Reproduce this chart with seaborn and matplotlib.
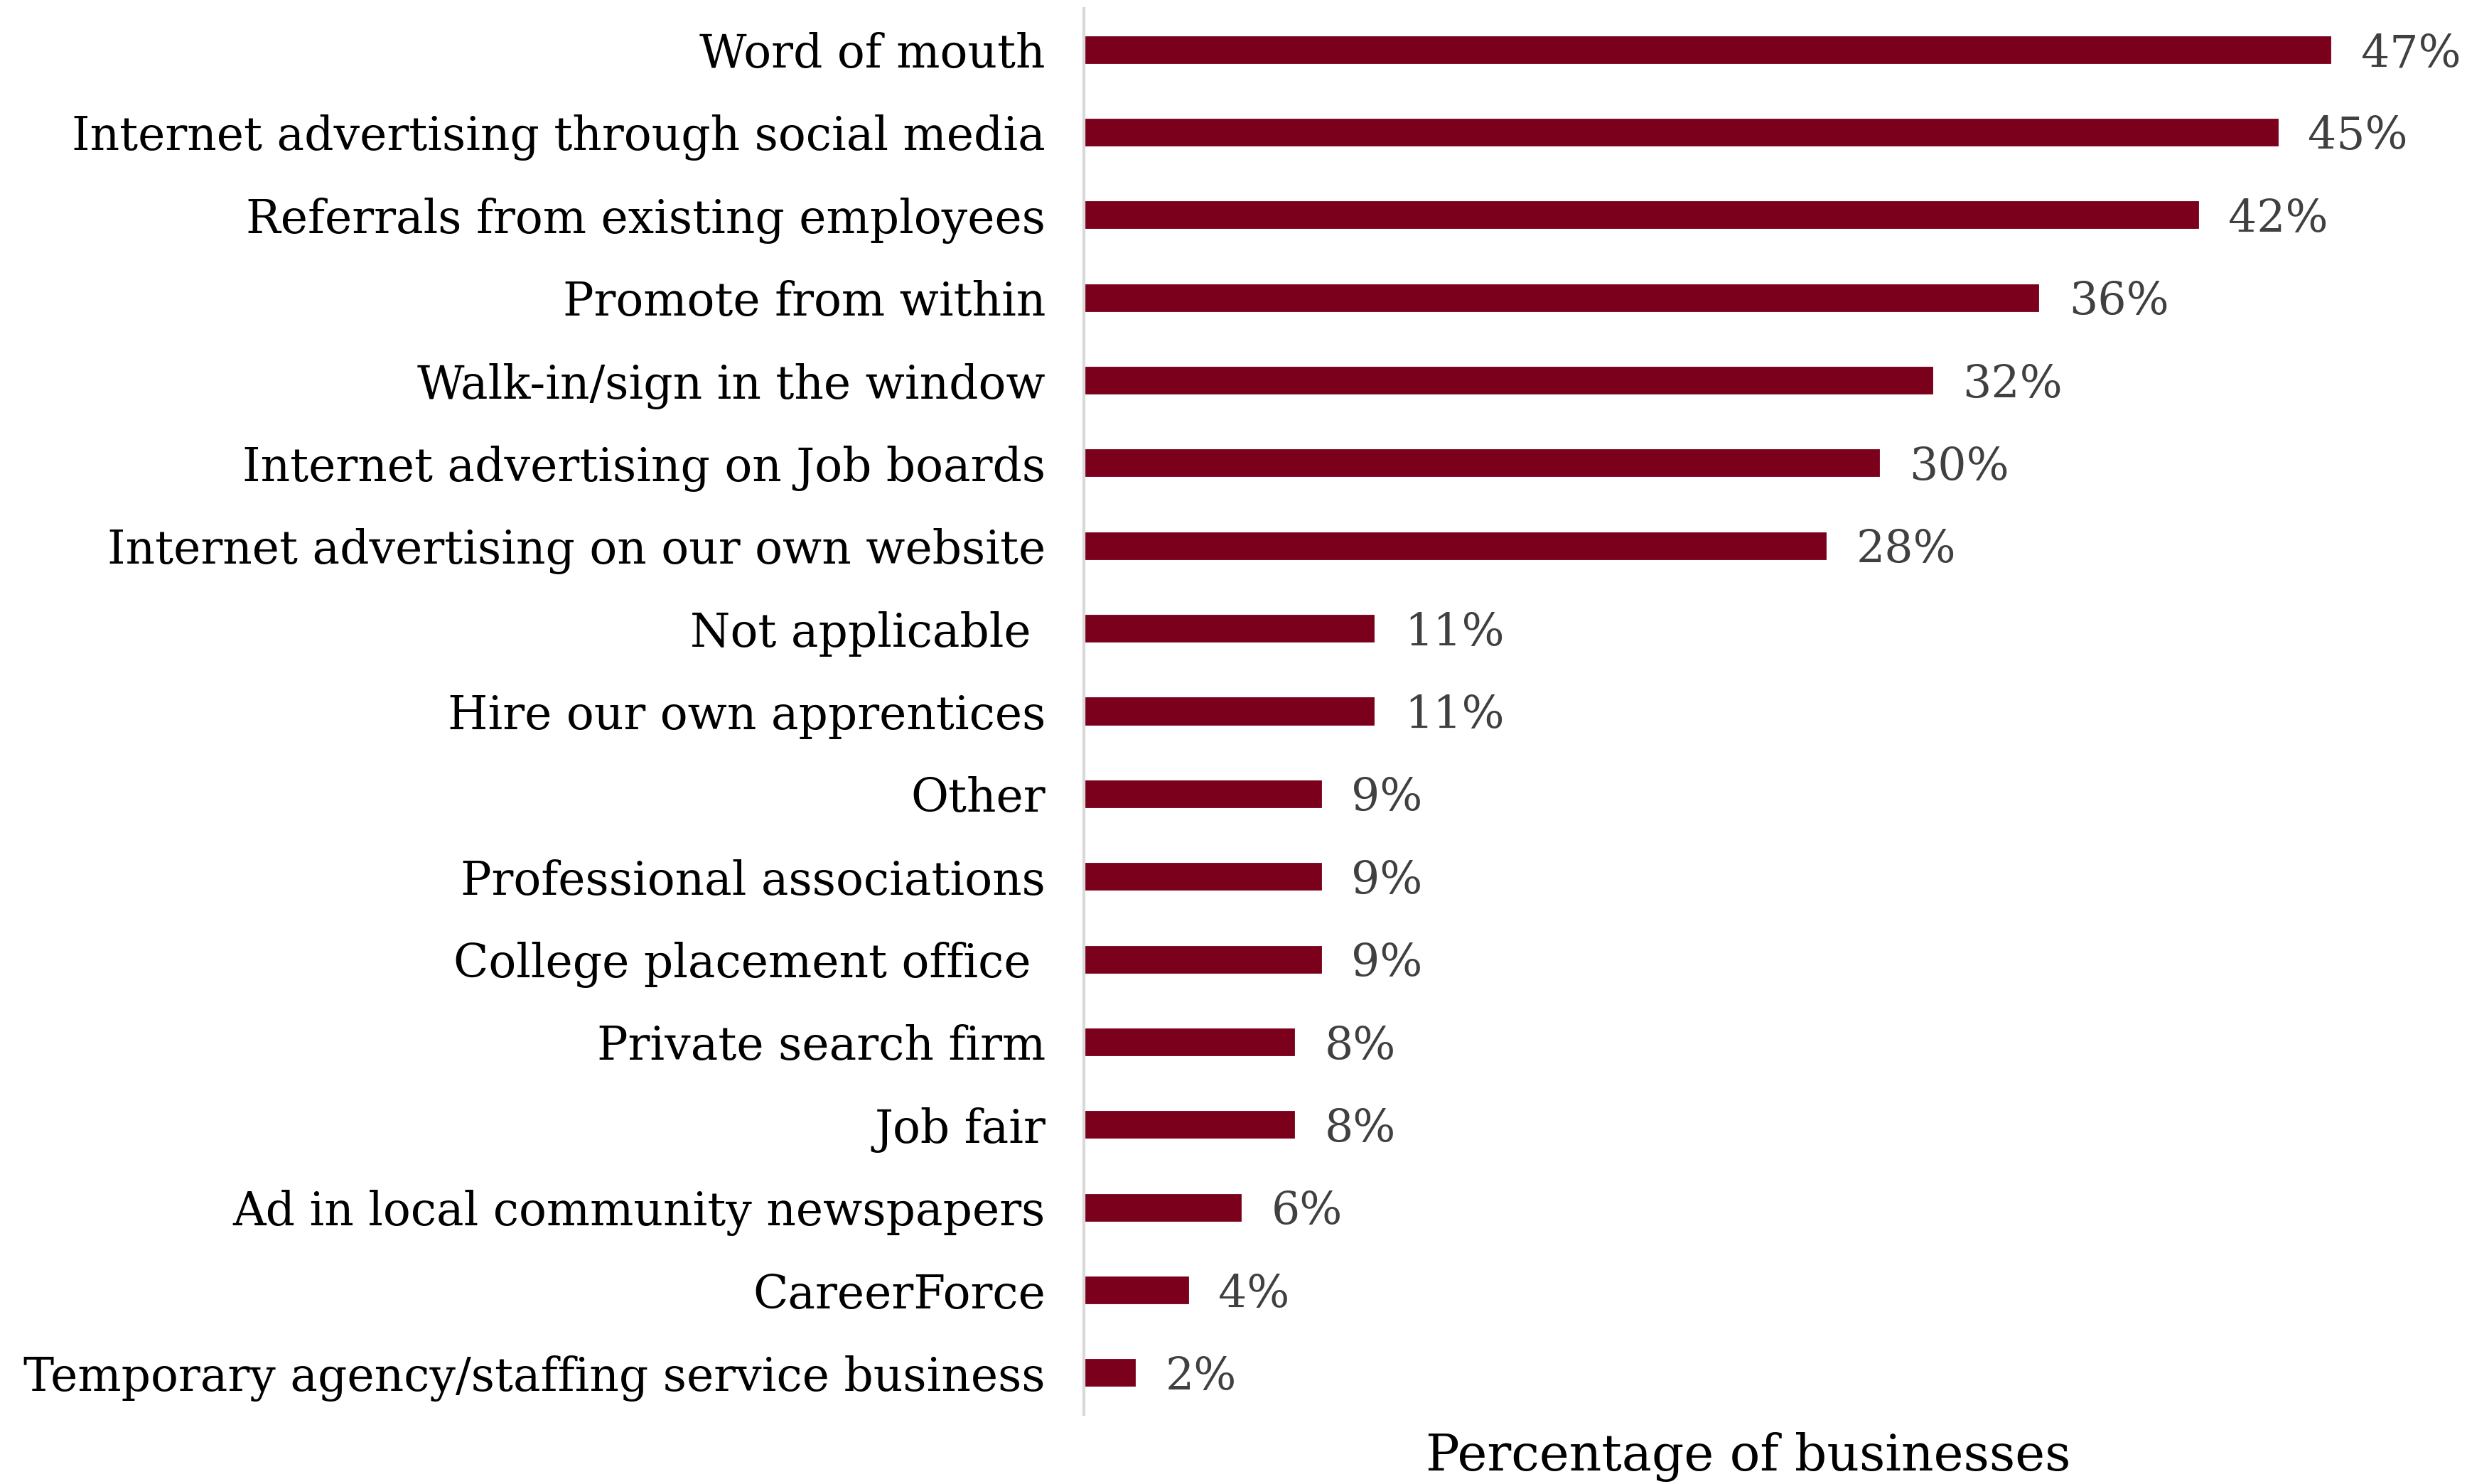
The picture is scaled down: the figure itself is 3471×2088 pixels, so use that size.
import matplotlib
matplotlib.use("Agg")
import matplotlib.pyplot as plt
import seaborn as sns
import pandas as pd

# Recruitment channels and share of businesses using each
channels = [
    "Word of mouth",
    "Internet advertising through social media",
    "Referrals from existing employees",
    "Promote from within",
    "Walk-in/sign in the window",
    "Internet advertising on Job boards",
    "Internet advertising on our own website",
    "Not applicable ",
    "Hire our own apprentices",
    "Other",
    "Professional associations",
    "College placement office ",
    "Private search firm",
    "Job fair",
    "Ad in local community newspapers",
    "CareerForce",
    "Temporary agency/staffing service business",
]
shares = [47, 45, 42, 36, 32, 30, 28, 11, 11, 9, 9, 9, 8, 8, 6, 4, 2]
value_labels = [f"{v}%" for v in shares]

df = pd.DataFrame({"channel": channels, "share": shares})

sns.set_theme(style="white")
plt.rcParams["font.family"] = ["DejaVu Serif", "Liberation Serif"]

fig = plt.figure(figsize=(3471 / 300, 2088 / 300), dpi=300)
ax = fig.add_axes([0.4394, 0.0469, 0.5386, 0.9474])

bar_color = "#7A001C"
sns.barplot(data=df, y="channel", x="share", orient="h", color=bar_color,
            width=0.37, saturation=1, ax=ax)

ax.set_xlim(0, 50)
ax.set_ylim(len(channels) - 0.5, -0.5)

for i, (v, lab) in enumerate(zip(shares, value_labels)):
    ax.annotate(lab, xy=(v, i), xytext=(9.5, 0), textcoords="offset points",
                ha="left", va="center_baseline", fontsize=15.2, color="#404040")

ax.set_ylabel("")
ax.set_xlabel("Percentage of businesses", fontsize=17, color="black", labelpad=6)
ax.set_xticks([])
ax.tick_params(axis="y", length=0, pad=13, labelsize=15.5, labelcolor="black")

for side in ("top", "right", "bottom"):
    ax.spines[side].set_visible(False)
ax.spines["left"].set_color("#d9d9d9")
ax.spines["left"].set_linewidth(1.0)

fig.savefig("out.png", dpi=300, facecolor="white")
